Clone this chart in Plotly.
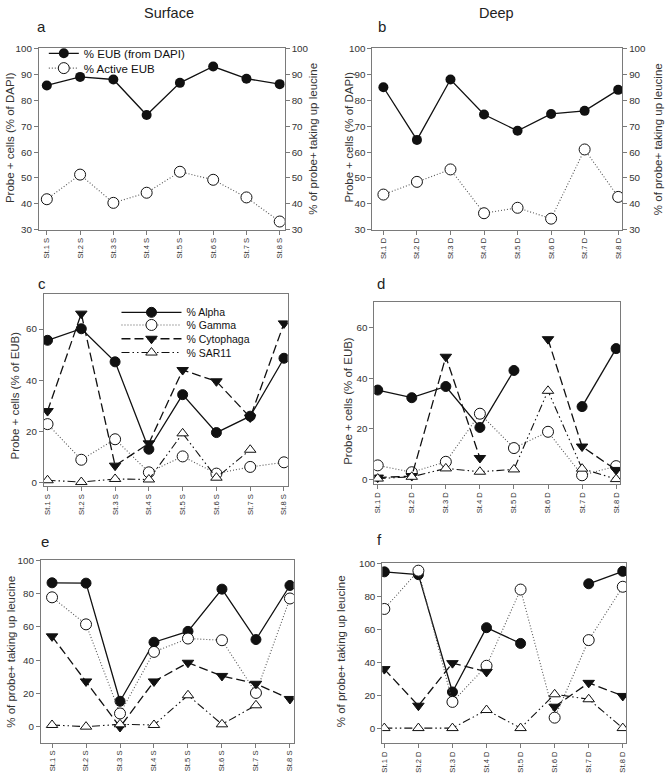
import plotly.graph_objects as go

W, H = 667, 783

stations_S = ["St.1 S", "St.2 S", "St.3 S", "St.4 S", "St.5 S", "St.6 S", "St.7 S", "St.8 S"]
stations_D = ["St.1 D", "St.2 D", "St.3 D", "St.4 D", "St.5 D", "St.6 D", "St.7 D", "St.8 D"]

# Panel a (Surface) / b (Deep): % EUB (from DAPI) and % Active EUB
a_eub = [85.7, 89.0, 88.0, 74.3, 86.7, 93.0, 88.3, 86.2]
a_active = [41.8, 51.3, 40.4, 44.3, 52.4, 49.3, 42.5, 33.2]
b_eub = [85.0, 64.7, 88.0, 74.5, 68.2, 74.7, 75.9, 84.0]
b_active = [43.6, 48.5, 53.3, 36.4, 38.5, 34.3, 61.0, 42.7]

# Panel c / d: probe + cells (% of EUB)
c_alpha = [55.6, 60.1, 47.2, 13.1, 34.4, 19.6, 26.0, 48.6]
c_gamma = [22.9, 9.0, 17.0, 4.1, 10.3, 3.6, 6.2, 8.0]
c_cyto = [28.0, 66.0, 6.7, 15.4, 44.0, 39.6, 25.5, 62.2]
c_sar11 = [1.0, 0.3, 1.5, 1.3, 19.3, 2.0, 12.9, None]

d_alpha = [35.3, 32.3, 36.7, 20.6, 43.0, None, 28.8, 51.6]
d_gamma = [5.7, 3.0, 7.1, 26.0, 12.5, 18.9, 1.8, 5.4]
d_cyto = [0.9, 1.5, 48.4, 8.6, None, 55.3, 13.1, 3.9]
d_sar11 = [0.5, 1.2, 4.5, 3.2, 4.1, 35.0, 4.4, 0.3]

# Panel e / f: % of probe+ taking up leucine
e_alpha = [86.4, 86.2, 15.4, 50.8, 57.3, 82.6, 52.4, 84.8]
e_gamma = [77.7, 61.5, 8.1, 45.0, 53.0, 52.0, 20.4, 77.0]
e_cyto = [54.3, 27.3, 0.0, 27.3, 38.5, 30.6, 25.9, 16.8]
e_sar11 = [1.2, 0.2, 1.6, 1.2, 19.0, 1.6, 13.0, None]

f_alpha = [94.7, 93.0, 22.2, 61.0, 51.5, None, 87.5, 95.0]
f_gamma = [72.3, 95.4, 16.2, 38.0, 84.0, 6.7, 53.5, 85.7]
f_cyto = [36.0, 13.9, 39.6, 34.3, None, 13.3, 27.7, 19.8]
f_sar11 = [0.4, 0.4, 0.4, 11.3, 0.4, 20.8, 17.8, 0.4]

FONT = "Liberation Sans, Arial, sans-serif"
AX = "#7a7a7a"
TXT = "#333333"
BLK = "#111111"
xi = list(range(8))

fig = go.Figure()

STY = {
    "alpha": dict(line=dict(color=BLK, width=1.3, dash="solid"),
                  marker=dict(symbol="circle", size=10, color=BLK, line=dict(color=BLK, width=1))),
    "gamma": dict(line=dict(color="#555555", width=1.1, dash="1px,2px"),
                  marker=dict(symbol="circle", size=11, color="white", line=dict(color=BLK, width=1))),
    "cyto": dict(line=dict(color=BLK, width=1.3, dash="9px,4px"),
                 marker=dict(symbol="triangle-down", size=10, color=BLK, line=dict(color=BLK, width=1))),
    "sar11": dict(line=dict(color=BLK, width=1.1, dash="8px,3px,1.5px,3px,1.5px,3px"),
                  marker=dict(symbol="triangle-up", size=10, color="white", line=dict(color=BLK, width=1))),
}
NAMES = {"alpha": "% Alpha", "gamma": "% Gamma", "cyto": "% Cytophaga", "sar11": "% SAR11"}


def add(y, key, xa, ya, legend=None):
    s = STY[key]
    fig.add_trace(go.Scatter(x=xi, y=y, mode="lines+markers", name=NAMES[key],
                             line=s["line"], marker=s["marker"], connectgaps=False,
                             xaxis=xa, yaxis=ya, showlegend=legend is not None,
                             legend=legend if legend else "legend"))


# Panel a
fig.add_trace(go.Scatter(x=xi, y=a_eub, mode="lines+markers", name="% EUB (from DAPI)",
                         line=dict(color=BLK, width=1.3), marker=dict(symbol="circle", size=10, color=BLK),
                         xaxis="x", yaxis="y", legend="legend"))
fig.add_trace(go.Scatter(x=xi, y=a_active, mode="lines+markers", name="% Active EUB",
                         line=dict(color="#555555", width=1.1, dash="1px,2px"),
                         marker=dict(symbol="circle", size=11, color="white", line=dict(color=BLK, width=1)),
                         xaxis="x", yaxis="y7", legend="legend2"))
# Panel b
fig.add_trace(go.Scatter(x=xi, y=b_eub, mode="lines+markers", showlegend=False,
                         line=dict(color=BLK, width=1.3), marker=dict(symbol="circle", size=10, color=BLK),
                         xaxis="x2", yaxis="y2"))
fig.add_trace(go.Scatter(x=xi, y=b_active, mode="lines+markers", showlegend=False,
                         line=dict(color="#555555", width=1.1, dash="1px,2px"),
                         marker=dict(symbol="circle", size=11, color="white", line=dict(color=BLK, width=1)),
                         xaxis="x2", yaxis="y8"))

for (key, y), lg in zip([("alpha", c_alpha), ("gamma", c_gamma), ("cyto", c_cyto), ("sar11", c_sar11)],
                        ["legend3", "legend4", "legend5", "legend6"]):
    add(y, key, "x3", "y3", legend=lg)
for key, y in [("alpha", d_alpha), ("gamma", d_gamma), ("cyto", d_cyto), ("sar11", d_sar11)]:
    add(y, key, "x4", "y4")
for key, y in [("alpha", e_alpha), ("gamma", e_gamma), ("cyto", e_cyto), ("sar11", e_sar11)]:
    add(y, key, "x5", "y5")
for key, y in [("alpha", f_alpha), ("gamma", f_gamma), ("cyto", f_cyto), ("sar11", f_sar11)]:
    add(y, key, "x6", "y6")


def dx(p0, p1):
    return [p0 / W, p1 / W]


def dy(top, bottom):
    return [1 - bottom / H, 1 - top / H]


def xaxis(dom, labels, rng, anchor):
    return dict(domain=dom, range=rng, anchor=anchor, tickmode="array", tickvals=xi, ticktext=labels,
                tickangle=-90, ticks="outside", ticklen=4, tickcolor=AX, showline=True, linecolor=AX,
                linewidth=1, mirror=True, showgrid=False, zeroline=False,
                tickfont=dict(family=FONT, size=7.6, color=TXT))


def yaxis(dom, rng, tv, anchor, mirror=True):
    return dict(domain=dom, range=rng, anchor=anchor, tickmode="array", tickvals=tv,
                ticks="outside", ticklen=4, tickcolor=AX, showline=True, linecolor=AX, linewidth=1,
                mirror=mirror, showgrid=False, zeroline=False,
                tickfont=dict(family=FONT, size=9.8, color=TXT))


def leg(x, y, size, iw):
    return dict(x=x / W, y=1 - y / H, xanchor="left", yanchor="middle", bgcolor="rgba(0,0,0,0)",
                font=dict(family=FONT, size=size, color=BLK), itemwidth=iw, tracegroupgap=0,
                borderwidth=0)


t30 = [30, 40, 50, 60, 70, 80, 90, 100]
t60 = [0, 20, 40, 60]
t100 = [0, 20, 40, 60, 80, 100]

layout = dict(
    width=W, height=H, margin=dict(l=0, r=0, t=0, b=0),
    paper_bgcolor="white", plot_bgcolor="white",
    font=dict(family=FONT, color=TXT),
    xaxis=xaxis(dx(37, 284), stations_S, [-0.24, 7.15], "y"),
    yaxis=yaxis(dy(43, 227), [30, 100], t30, "x", mirror=False),
    yaxis7=dict(yaxis(dy(43, 227), [30, 100], t30, "x", mirror=False), overlaying="y", side="right"),
    xaxis2=xaxis(dx(372, 623), stations_D, [-0.33, 7.12], "y2"),
    yaxis2=yaxis(dy(43, 227), [30, 100], t30, "x2", mirror=False),
    yaxis8=dict(yaxis(dy(43, 227), [30, 100], t30, "x2", mirror=False), overlaying="y2", side="right"),
    xaxis3=xaxis(dx(42, 287), stations_S, [-0.11, 7.11], "y3"),
    yaxis3=yaxis(dy(292, 487), [-1.3, 73.7], t60, "x3"),
    xaxis4=xaxis(dx(374, 621), stations_D, [-0.1, 7.12], "y4"),
    yaxis4=yaxis(dy(300, 485), [-1.7, 70], t60, "x4"),
    xaxis5=xaxis(dx(39, 293), stations_S, [-0.33, 7.11], "y5"),
    yaxis5=yaxis(dy(562, 747), [-9.3, 100], t100, "x5"),
    xaxis6=xaxis(dx(382, 627), stations_D, [-0.06, 7.1], "y6"),
    yaxis6=yaxis(dy(565, 748), [-8.9, 100], t100, "x6"),
    legend=leg(42, 48, 11.5, 30),
    legend2=leg(42, 63, 11.5, 30),
    legend3=leg(115, 310.7, 10.5, 60),
    legend4=leg(115, 323.5, 10.5, 60),
    legend5=leg(115, 337.5, 10.5, 60),
    legend6=leg(115, 351.5, 10.5, 60),
)
fig.update_layout(**layout)


def ann(text, x, y, size, angle=0, color=TXT):
    fig.add_annotation(text=text, x=x / W, y=1 - y / H, xref="paper", yref="paper", showarrow=False,
                       textangle=angle, font=dict(family=FONT, size=size, color=color),
                       xanchor="center", yanchor="middle")


ann("Surface", 168, 7, 14.5, color="#222")
ann("Deep", 497, 7, 14.5, color="#222")
for t, x, y in [("a", 40, 21), ("b", 382, 21), ("c", 40, 281), ("d", 381, 281), ("e", 43, 543), ("f", 379, 541)]:
    ann(t, x, y, 15, color="#222")

ylab1 = "Probe + cells (% of DAPI)"
ylab2 = "% of probe+ taking up leucine"
ylab3 = "Probe + cells (% of EUB)"
ann(ylab1, 8, 133, 11.5, -90)
ann(ylab2, 313, 135, 11.5, -90)
ann(ylab1, 349, 133, 11.5, -90)
ann(ylab2, 659, 135, 11.5, -90)
ann(ylab3, 14, 395, 11.5, -90)
ann(ylab3, 348, 400, 11.5, -90)
ann(ylab2, 9, 655, 11.5, -90)
ann(ylab2, 340, 654, 11.5, -90)

fig.write_html("out.html", config={"displayModeBar": False},
               post_script="document.body.style.margin='0px';document.body.style.overflow='hidden';")
